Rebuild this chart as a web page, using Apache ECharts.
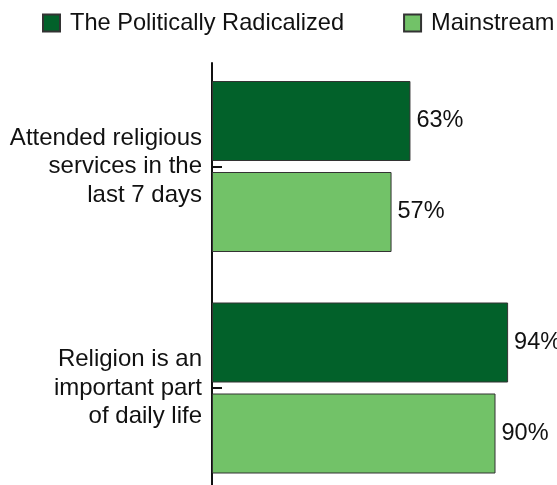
<!DOCTYPE html>
<html>
<head>
<meta charset="utf-8">
<script src="https://cdn.jsdelivr.net/npm/echarts@6/dist/echarts.min.js"></script>
<style>html,body{margin:0;padding:0;background:#fff;}#c{width:557px;height:485px;}</style>
</head>
<body>
<div id="c"></div>
<script>
var categories = ["Attended religious\nservices in the\nlast 7 days", "Religion is an\nimportant part\nof daily life"];
var seriesNames = ["The Politically Radicalized", "Mainstream"];
var radicalized = [63, 94];
var mainstream = [57, 90];
var colors = ["#02612a", "#72c268"];

var FONT = "'Liberation Sans', Arial, sans-serif";
var chart = echarts.init(document.getElementById('c'), null, {renderer: 'canvas'});
function lbl() {
  return {show: true, position: 'right', distance: 6, formatter: '{c}%', fontSize: 23.5, fontFamily: FONT, color: '#111'};
}
chart.setOption({
  animation: false,
  backgroundColor: '#fff',
  textStyle: {fontFamily: FONT},
  legend: {
    data: seriesNames,
    left: 42, right: 0, top: 11, padding: 0,
    orient: 'horizontal',
    itemWidth: 17, itemHeight: 17, itemGap: 59,
    textStyle: {fontSize: 23.6, fontFamily: FONT, color: '#111', padding: [0, 0, 0, 5]},
    icon: 'rect'
  },
  grid: [
    {left: 212, right: 30, top: 166.5, height: 221.5, containLabel: false},
    {left: 212, right: 30, top: 63, bottom: 0, containLabel: false}
  ],
  xAxis: [
    {type: 'value', min: 0, max: 100, show: false, gridIndex: 0},
    {type: 'value', min: 0, max: 100, show: false, gridIndex: 1}
  ],
  yAxis: [
    {
      type: 'category', data: categories, inverse: true, boundaryGap: false, gridIndex: 0,
      axisLine: {show: false},
      axisTick: {show: true, inside: true, length: 10, lineStyle: {color: '#111', width: 2}},
      axisLabel: {fontSize: 24, fontFamily: FONT, color: '#111', lineHeight: 28.5, margin: 10, align: 'right'}
    },
    {
      type: 'value', gridIndex: 1, min: 0, max: 1,
      axisLine: {show: true, lineStyle: {color: '#111', width: 2}},
      axisTick: {show: false}, axisLabel: {show: false}, splitLine: {show: false}
    }
  ],
  series: [
    {name: seriesNames[0], type: 'bar', data: radicalized, barWidth: 80, barGap: '13.75%', clip: false,
     itemStyle: {color: colors[0], borderColor: '#333', borderWidth: 1}, label: lbl()},
    {name: seriesNames[1], type: 'bar', data: mainstream, barWidth: 80, barGap: '13.75%', clip: false,
     itemStyle: {color: colors[1], borderColor: '#333', borderWidth: 1}, label: lbl()}
  ]
});
</script>
</body>
</html>
